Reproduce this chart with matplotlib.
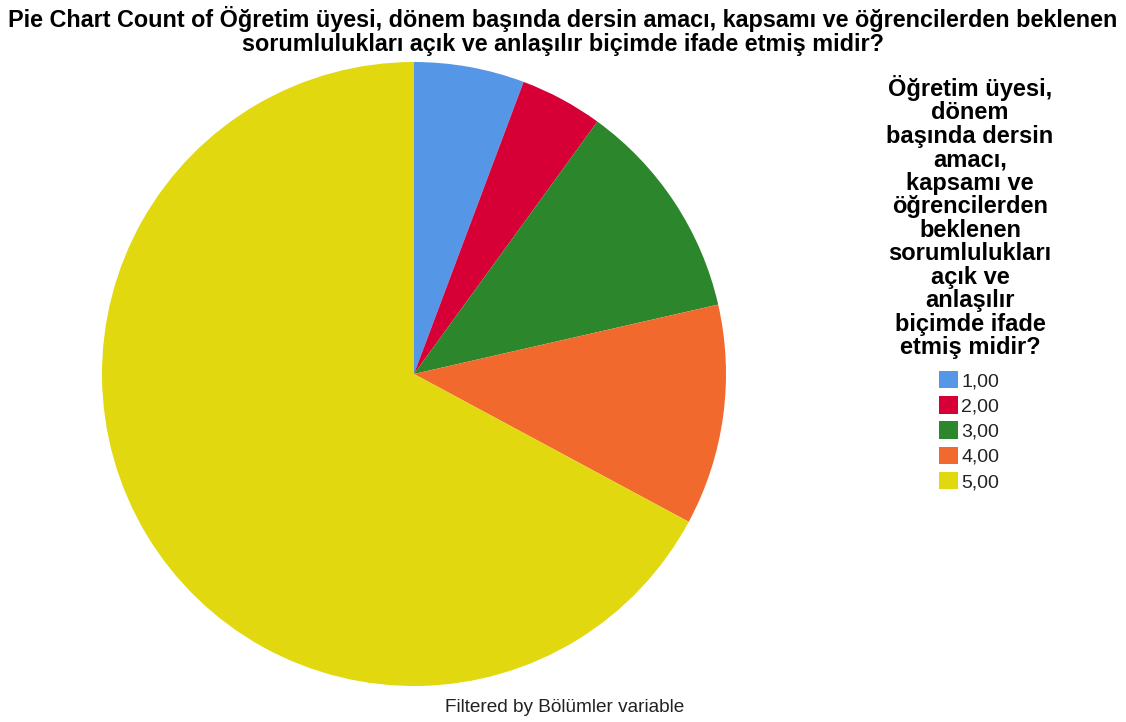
import matplotlib
matplotlib.use("Agg")
import matplotlib.pyplot as plt
from matplotlib.patches import Patch

plt.rcParams['font.family'] = ['Liberation Sans', 'DejaVu Sans']

categories = ["1,00", "2,00", "3,00", "4,00", "5,00"]
counts = [8, 6, 16, 16, 94]
colors = ["#5596E6", "#D60036", "#2B862C", "#F2692D", "#E1D80F"]

title = ("Pie Chart Count of Öğretim üyesi, dönem başında dersin amacı, kapsamı ve öğrencilerden beklenen\n"
         "sorumlulukları açık ve anlaşılır biçimde ifade etmiş midir?")
legend_title = ("Öğretim üyesi,\ndönem\nbaşında dersin\namacı,\nkapsamı ve\nöğrencilerden\n"
                "beklenen\nsorumlulukları\naçık ve\nanlaşılır\nbiçimde ifade\netmiş midir?")
footnote = "Filtered by Bölümler variable"

W, H = 1126, 722
fig = plt.figure(figsize=(W / 100, H / 100), dpi=100)

# pie axes: centre (414, 374) px, radius 312 px
cx, cy, r = 414, 374, 312
ax = fig.add_axes([(cx - r) / W, (H - cy - r) / H, 2 * r / W, 2 * r / H])
ax.pie(counts, colors=colors, startangle=90, counterclock=False, radius=1.0,
       wedgeprops=dict(linewidth=0))
ax.set_xlim(-1, 1)
ax.set_ylim(-1, 1)
ax.set_aspect('equal')
ax.axis('off')

fig.text(563 / W, 1 - 31 / H, title, ha='center', va='center', fontsize=16.8,
         fontweight='bold', linespacing=1.1)

fig.text(970 / W, 1 - 217 / H, legend_title, ha='center', va='center', fontsize=17,
         fontweight='bold', linespacing=1.03)

handles = [Patch(facecolor=c, edgecolor='none') for c in colors]
leg = fig.legend(handles, categories, loc='upper left',
                 bbox_to_anchor=(939 / W, 1 - 371 / H), frameon=False,
                 fontsize=14, handlelength=1.0, handleheight=1.0,
                 handletextpad=0.15, labelspacing=0.3, borderpad=0,
                 borderaxespad=0)
for t in leg.get_texts():
    t.set_color('#222222')

fig.text(565 / W, 1 - 708 / H, footnote, ha='center', va='center', fontsize=13.7,
         color='#222222')

fig.savefig("out.png", dpi=100)
